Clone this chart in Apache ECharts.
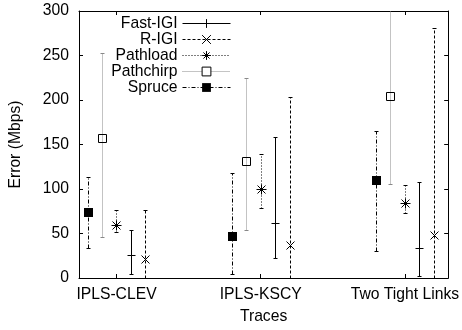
<!DOCTYPE html>
<html>
<head>
<meta charset="utf-8">
<script src="https://cdn.jsdelivr.net/npm/echarts@6/dist/echarts.min.js"></script>
<style>
html,body{margin:0;padding:0;background:#fff;}
#chart{width:462px;height:330px;}
</style>
</head>
<body>
<div id="chart"></div>
<script>
// ---- data ----
const categories = ['IPLS-CLEV', 'IPLS-KSCY', 'Two Tight Links'];
const seriesNames = ['Fast-IGI', 'R-IGI', 'Pathload', 'Pathchirp', 'Spruce'];
const yTicks = [0, 50, 100, 150, 200, 250, 300];

const fastIgiMid  = [25.6, 62.0, 33.8];
const fastIgiLow  = [4.5, 22.3, 1.9];
const fastIgiHigh = [53.5, 158.0, 107.8];

const rIgiMid  = [21.2, 36.8, 48.3];
const rIgiLow  = [0, 0, 0];
const rIgiHigh = [76.0, 203.3, 281.4];

const pathloadMid  = [59.9, 100.0, 84.0];
const pathloadLow  = [51.3, 79.2, 72.5];
const pathloadHigh = [76.0, 139.4, 104.0];

const pathchirpMid  = [156.9, 132.0, 204.0];
const pathchirpLow  = [45.7, 54.3, 105.6];
const pathchirpHigh = [252.8, 224.5, 310.0];

const spruceMid  = [74.4, 46.8, 110.4];
const spruceLow  = [33.5, 4.5, 30.5];
const spruceHigh = [113.0, 118.0, 165.4];

const seriesValues = {
  'Fast-IGI':  [fastIgiMid, fastIgiLow, fastIgiHigh],
  'R-IGI':     [rIgiMid, rIgiLow, rIgiHigh],
  'Pathload':  [pathloadMid, pathloadLow, pathloadHigh],
  'Pathchirp': [pathchirpMid, pathchirpLow, pathchirpHigh],
  'Spruce':    [spruceMid, spruceLow, spruceHigh]
};

// ---- styles (layout / look, not data) ----
const FONT = 'Liberation Sans, Arial, Helvetica, sans-serif';
const FS = 15.7;
const styles = {
  'Fast-IGI':  {offset: 0.1,  dash: null,         color: '#000', marker: 'plus'},
  'R-IGI':     {offset: 0.2,  dash: [3, 2],       color: '#000', marker: 'cross'},
  'Pathload':  {offset: 0.0,  dash: [1, 2],       color: '#000', marker: 'star'},
  'Pathchirp': {offset: -0.1, dash: [1, 1],       color: '#888', marker: 'box'},
  'Spruce':    {offset: -0.2, dash: [4, 2, 1, 2], color: '#000', marker: 'fbox'}
};
const symbolPaths = {
  plus:  'path://M0,5L10,5M5,0L5,10',
  cross: 'path://M0,0L10,10M0,10L10,0',
  star:  'path://M0,5L10,5M5,0L5,10M1.5,1.5L8.5,8.5M1.5,8.5L8.5,1.5',
  box:   'rect',
  fbox:  'rect'
};

function markerShapes(kind, cx, cy) {
  const s = {stroke: '#000', lineWidth: 1, fill: null};
  const L = (x1, y1, x2, y2) => ({type: 'line', shape: {x1, y1, x2, y2}, style: s});
  switch (kind) {
    case 'plus': return [L(cx - 4, cy, cx + 4, cy), L(cx, cy - 4, cx, cy + 4)];
    case 'cross': return [L(cx - 4, cy - 4, cx + 4, cy + 4), L(cx - 4, cy + 4, cx + 4, cy - 4)];
    case 'star': return [L(cx - 5, cy, cx + 5, cy), L(cx, cy - 5, cx, cy + 5),
                         L(cx - 4, cy - 4, cx + 4, cy + 4), L(cx - 4, cy + 4, cx + 4, cy - 4)];
    case 'box': return [{type: 'rect', shape: {x: cx - 4, y: cy - 4, width: 8, height: 8},
                         style: {stroke: '#000', lineWidth: 1, fill: null}}];
    case 'fbox': return [{type: 'rect', shape: {x: cx - 4.5, y: cy - 4.5, width: 9, height: 9},
                          style: {fill: '#000'}}];
  }
  return [];
}

function makeRender(st) {
  return function (params, api) {
    const x = api.value(0), mid = api.value(1), lo = api.value(2), hi = api.value(3);
    const pM = api.coord([x, mid]);
    const pL = api.coord([x, lo]);
    const pH = api.coord([x, hi]);
    const cx = Math.round(pM[0]) + 0.5;
    const cy = Math.round(pM[1]) + 0.5;
    const yl = Math.round(pL[1]) + 0.5, yh = Math.round(pH[1]) + 0.5;
    const children = [
      {type: 'line', shape: {x1: cx, y1: yl, x2: cx, y2: yh},
       style: {stroke: st.color, lineWidth: 1, lineDash: st.dash}},
      {type: 'line', shape: {x1: cx - 2, y1: yl, x2: cx + 2, y2: yl}, style: {stroke: st.color, lineWidth: 1}},
      {type: 'line', shape: {x1: cx - 2, y1: yh, x2: cx + 2, y2: yh}, style: {stroke: st.color, lineWidth: 1}}
    ].concat(markerShapes(st.marker, cx, cy));
    return {type: 'group', children};
  };
}

const series = [];
// legend-only line series (carry the line style + marker for the legend sample)
seriesNames.forEach(name => {
  const st = styles[name];
  series.push({
    name, type: 'line', data: [],
    symbol: symbolPaths[st.marker], symbolSize: 9,
    lineStyle: {color: st.color, width: 1, type: st.dash ? st.dash : 'solid'},
    itemStyle: st.marker === 'fbox' ? {color: '#000', borderWidth: 0} :
      (st.marker === 'box' ? {color: '#fff', borderColor: '#000', borderWidth: 1} :
       {color: 'transparent', borderColor: '#000', borderWidth: 1})
  });
});
// error bar series
seriesNames.forEach(name => {
  const st = styles[name];
  const [mid, lo, hi] = seriesValues[name];
  series.push({
    name: name + ' bars', type: 'custom', clip: true,
    renderItem: makeRender(st),
    encode: {x: 0, y: 1},
    data: categories.map((c, i) => [i + st.offset, mid[i], lo[i], hi[i]])
  });
});

const axisLineStyle = {show: true, onZero: false, lineStyle: {color: '#000', width: 1}};

const chart = echarts.init(document.getElementById('chart'), null, {renderer: 'canvas'});
chart.setOption({
  animation: false,
  backgroundColor: '#fff',
  textStyle: {fontFamily: FONT, color: '#000'},
  grid: {left: 78, right: 12, top: 11, bottom: 51, show: false},
  legend: {
    data: seriesNames,
    orient: 'vertical', align: 'right',
    right: 231, top: 15.5,
    padding: 0, itemGap: 0,
    itemWidth: 48, itemHeight: 11,
    itemStyle: {borderWidth: 1},
    lineStyle: {width: 1},
    textStyle: {fontFamily: FONT, fontSize: FS, color: '#000', lineHeight: 16},
    selectedMode: false
  },
  xAxis: [{
    type: 'value', min: -0.26, max: 2.3,
    name: 'Traces', nameLocation: 'middle', nameGap: 31,
    nameTextStyle: {fontFamily: FONT, fontSize: FS, color: '#000'},
    axisLine: axisLineStyle,
    axisTick: {show: true, inside: true, length: 4, customValues: [0, 1, 2], lineStyle: {color: '#000'}},
    axisLabel: {show: true, customValues: [0, 1, 2], margin: 9, fontFamily: FONT, fontSize: FS, color: '#000',
      formatter: v => categories[Math.round(v)] || ''},
    splitLine: {show: false}
  }, {
    type: 'value', min: -0.26, max: 2.3, position: 'top',
    axisLine: axisLineStyle,
    axisTick: {show: true, inside: true, length: 4, customValues: [0, 1, 2], lineStyle: {color: '#000'}},
    axisLabel: {show: false}, splitLine: {show: false}
  }],
  yAxis: [{
    type: 'value', min: 0, max: 300, interval: 50, position: 'left',
    name: 'Error (Mbps)', nameLocation: 'middle', nameGap: 55, nameRotate: 90,
    nameTextStyle: {fontFamily: FONT, fontSize: FS, color: '#000'},
    axisLine: axisLineStyle,
    axisTick: {show: true, inside: true, length: 4, lineStyle: {color: '#000'}},
    axisLabel: {show: true, margin: 10, fontFamily: FONT, fontSize: FS, color: '#000',
      customValues: yTicks},
    splitLine: {show: false}
  }, {
    type: 'value', min: 0, max: 300, interval: 50, position: 'right',
    axisLine: axisLineStyle,
    axisTick: {show: true, inside: true, length: 4, lineStyle: {color: '#000'}},
    axisLabel: {show: false}, splitLine: {show: false}
  }],
  series
});
</script>
</body>
</html>
